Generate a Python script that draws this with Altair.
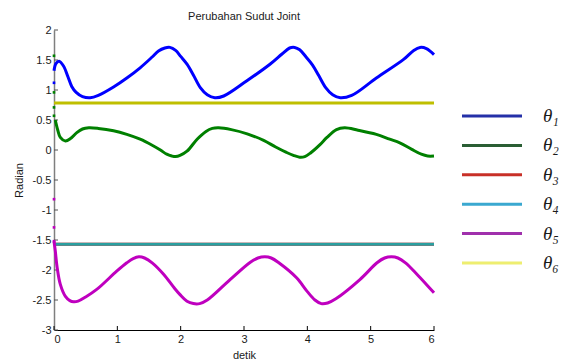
import altair as alt
import pandas as pd

series = ["t1", "t2", "t3", "t4", "t5", "t6"]
legend_labels = ["θ₁", "θ₂", "θ₃", "θ₄", "θ₅", "θ₆"]
plot_colors = ["#0000ff", "#008000", "#ff0000", "#2a9fa0", "#bf00bf", "#bfbf00"]
legend_colors = ["#2430a8", "#2a5e34", "#c83028", "#3aa8d0", "#a030ac", "#eeee70"]
line_widths = [3, 3, 3.5, 3, 3, 3]

# theta 1 (blue)
t_th1 = [0.0, 0.03, 0.08, 0.15, 0.22, 0.28, 0.35, 0.45, 0.57, 0.7, 0.94, 1.15, 1.36, 1.55, 1.65, 1.75,
         1.83, 1.92, 2.0, 2.1, 2.2, 2.31, 2.42, 2.54, 2.68, 3.04, 3.41, 3.6, 3.72, 3.8, 3.88, 3.98, 4.08,
         4.18, 4.29, 4.4, 4.52, 4.7, 5.09, 5.52, 5.68, 5.78, 5.88, 6.0]
v_th1 = [1.32, 1.44, 1.48, 1.40, 1.22, 1.06, 0.96, 0.89, 0.87, 0.91, 1.05, 1.20, 1.37, 1.55, 1.65, 1.70,
         1.71, 1.66, 1.56, 1.43, 1.25, 1.04, 0.92, 0.87, 0.90, 1.15, 1.43, 1.60, 1.70, 1.71, 1.67, 1.55, 1.42,
         1.24, 1.04, 0.92, 0.87, 0.91, 1.20, 1.51, 1.66, 1.71, 1.69, 1.59]

# theta 2 (green)
t_th2 = [0.02, 0.06, 0.1, 0.18, 0.26, 0.36, 0.45, 0.55, 0.7, 0.94, 1.15, 1.36, 1.55, 1.68, 1.78, 1.86,
         1.92, 1.99, 2.1, 2.26, 2.4, 2.5, 2.6, 2.8, 3.05, 3.31, 3.5, 3.67, 3.78, 3.88, 3.96, 4.05, 4.2,
         4.31, 4.46, 4.59, 4.8, 5.09, 5.3, 5.46, 5.65, 5.8, 5.9, 6.0]
v_th2 = [0.50, 0.33, 0.21, 0.15, 0.19, 0.29, 0.35, 0.37, 0.36, 0.32, 0.26, 0.18, 0.08, 0.00, -0.07, -0.10,
         -0.11, -0.09, -0.02, 0.18, 0.31, 0.36, 0.37, 0.34, 0.27, 0.16, 0.05, -0.04, -0.09, -0.12, -0.11, -0.05, 0.09,
         0.21, 0.34, 0.37, 0.33, 0.26, 0.18, 0.12, 0.01, -0.07, -0.10, -0.10]

# theta 3, 4, 6 (constant)
t_const = [0.0, 6.0]
v_th3 = [-1.5708, -1.5708]
v_th4 = [-1.5708, -1.5708]
v_th6 = [0.7854, 0.7854]

# theta 5 (magenta)
t_th5 = [0.0, 0.02, 0.05, 0.1, 0.18, 0.25, 0.31, 0.38, 0.5, 0.68, 0.99, 1.15, 1.25, 1.34, 1.43, 1.55,
         1.73, 1.9, 1.99, 2.1, 2.2, 2.3, 2.42, 2.78, 3.1, 3.22, 3.33, 3.43, 3.55, 3.83, 4.0, 4.12, 4.22,
         4.32, 4.45, 4.83, 5.1, 5.22, 5.33, 5.43, 5.55, 5.73, 5.88, 6.0]
v_th5 = [-1.52, -1.68, -1.96, -2.24, -2.44, -2.51, -2.53, -2.52, -2.45, -2.32, -2.02, -1.88, -1.81, -1.78, -1.80, -1.88,
         -2.07, -2.30, -2.41, -2.52, -2.56, -2.56, -2.50, -2.16, -1.87, -1.80, -1.78, -1.80, -1.88, -2.13, -2.36, -2.50, -2.56,
         -2.55, -2.48, -2.16, -1.88, -1.80, -1.78, -1.80, -1.88, -2.07, -2.24, -2.38]

# sparse initial samples at t = 0
t_init = [0.0, 0.0, 0.0, 0.0, 0.0, 0.0, 0.0, 0.0]
v_init = [1.12, 1.57, 0.96, 0.71, 0.57, -0.82, -1.29, -1.52]
s_init = ["t1", "t2", "t2", "t2", "t2", "t5", "t5", "t5"]

y_ticks = [-3, -2.5, -2, -1.5, -1, -0.5, 0, 0.5, 1, 1.5, 2]
x_ticks = [0, 1, 2, 3, 4, 5, 6]

rows = []
for s, ts, vs in [("t1", t_th1, v_th1), ("t2", t_th2, v_th2), ("t3", t_const, v_th3),
                  ("t4", t_const, v_th4), ("t5", t_th5, v_th5), ("t6", t_const, v_th6)]:
    for t, v in zip(ts, vs):
        rows.append({"s": s, "t": t, "v": v})
df = pd.DataFrame(rows)
df_init = pd.DataFrame({"s": s_init, "t": t_init, "v": v_init})
df_yt = pd.DataFrame({"v": y_ticks})
df_xt = pd.DataFrame({"t": x_ticks})

FONT = "Liberation Sans"

x_enc = alt.X("t:Q", scale=alt.Scale(domain=[0, 6], nice=False, zero=False),
              axis=alt.Axis(values=x_ticks, title="detik", grid=False, ticks=False, tickSize=0,
                            labelPadding=3, titlePadding=5, domainColor="#000000",
                            labelFont=FONT, labelFontSize=11, labelColor="#1a1a1a",
                            titleFont=FONT, titleFontSize=11, titleFontWeight="normal", titleColor="#1a1a1a",
                            labelExpr="'' + datum.value"))
y_enc = alt.Y("v:Q", scale=alt.Scale(domain=[-3, 2], nice=False, zero=False),
              axis=alt.Axis(values=y_ticks, title="Radian", grid=False, ticks=False, tickSize=0,
                            labelPadding=3, titlePadding=8, domainColor="#7f7f7f", domainWidth=1.5,
                            labelFont=FONT, labelFontSize=11, labelColor="#1a1a1a",
                            titleFont=FONT, titleFontSize=11, titleFontWeight="normal", titleColor="#1a1a1a",
                            labelExpr="'' + datum.value"))
color_enc = alt.Color("s:N", scale=alt.Scale(domain=series, range=plot_colors), legend=None)

lines = alt.Chart(df).mark_line(interpolate="catmull-rom").encode(
    x=x_enc, y=y_enc, color=color_enc,
    strokeWidth=alt.StrokeWidth("s:N", scale=alt.Scale(domain=series, range=line_widths), legend=None),
    order="t:Q")
dots = alt.Chart(df_init).mark_square(size=7, opacity=1).encode(x=x_enc, y=y_enc, color=color_enc)
ytick_rules = alt.Chart(df_yt).mark_rule(color="#555555").encode(y=y_enc, x=alt.value(0), x2=alt.value(4))
xtick_rules = alt.Chart(df_xt).mark_rule(color="#000000").encode(x=x_enc, y=alt.value(300), y2=alt.value(296))

main = alt.layer(ytick_rules, xtick_rules, lines, dots).properties(
    width=380, height=300,
    title=alt.TitleParams("Perubahan Sudut Joint", font=FONT, fontSize=11, fontWeight="normal",
                          color="#1a1a1a", offset=2))

leg_df = pd.DataFrame({"label": legend_labels, "col": legend_colors})
yleg = alt.Y("label:N", sort=legend_labels,
             scale=alt.Scale(type="point", domain=legend_labels, range=[86, 233], padding=0), axis=None)
leg_rules = alt.Chart(leg_df).mark_rule(strokeWidth=3).encode(
    y=yleg, x=alt.value(0), x2=alt.value(60), color=alt.Color("col:N", scale=None))
leg_text = alt.Chart(leg_df).mark_text(align="left", baseline="middle", font="Liberation Serif",
                                       fontStyle="italic", fontSize=19, color="#1a1a1a").encode(
    y=yleg, x=alt.value(81), text="label:N")
legend_panel = alt.layer(leg_rules, leg_text).properties(width=95, height=300)

chart = alt.hconcat(main, legend_panel, spacing=20).properties(
    padding={"left": 5, "top": 3, "right": 0, "bottom": 0}
).resolve_scale(color="independent", y="independent", x="independent").configure_view(stroke=None)

chart.save("out.html", embed_options={"renderer": "svg", "actions": False})
